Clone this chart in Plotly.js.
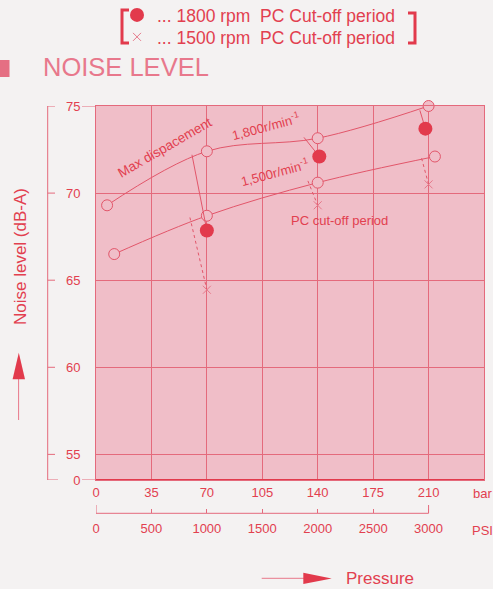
<!DOCTYPE html>
<html>
<head>
<meta charset="utf-8">
<script src="https://cdn.plot.ly/plotly-3.0.1.min.js"></script>
<style>html,body{margin:0;padding:0;background:#f4f2f2;}#chart{width:493px;height:589px;}</style>
</head>
<body>
<div id="chart"></div>
<script>
// ---- data ----
const barTicks = [0, 35, 70, 105, 140, 175, 210];
const barLabels = ['0', '35', '70', '105', '140', '175', '210'];
const psiTicks = [0, 500, 1000, 1500, 2000, 2500, 3000];
const psiLabels = ['0', '500', '1000', '1500', '2000', '2500', '3000'];
const yBreak = 53.53;               // where the broken axis shows "0"
const noiseTicks = [yBreak, 55, 60, 65, 70, 75];
const noiseLabels = ['0', '55', '60', '65', '70', '75'];

const maxX1800 = [7, 70, 140, 210];
const maxY1800 = [69.3, 72.4, 73.15, 75.0];
const maxX1500 = [11.5, 70, 140, 214];
const maxY1500 = [66.5, 68.7, 70.6, 72.1];
const cutX1800 = [70, 141, 208];
const cutY1800 = [67.85, 72.1, 73.7];
const cutX1500 = [70, 140, 210];
const cutY1500 = [64.45, 69.3, 70.5];
const dropFromX1800 = [60.6, 131.3, 204.5];
const dropFromY1800 = [72.2, 73.2, 74.75];
const dropFromX1500 = [59.3, 133.8, 205.6];
const dropFromY1500 = [68.6, 70.7, 72.0];

const legendNames = ['...\u00a01800 rpm\u00a0\u00a0PC Cut-off period', '...\u00a01500 rpm\u00a0\u00a0PC Cut-off period'];

// ---- styling / geometry ----
const W = 493, H = 589, ml = 96, mr = 9, mt = 106, mb = 49;
const plotW = W - ml - mr, plotH = H - mt - mb, paperBottom = H - mb;
const px = x => (x - ml) / plotW;
const py = y => (paperBottom - y) / plotH;
const red = '#e23a4c', lineRed = '#e2566a', grid = '#e46a7c', txt = '#e2404f';
const plotBg = '#f0bec8', paperBg = '#f4f2f2';
const font = 'Liberation Sans, Arial, sans-serif';

function segs(x0, y0, x1, y1) {
  const xs = [], ys = [];
  for (let i = 0; i < x0.length; i++) { xs.push(x0[i], x1[i], null); ys.push(y0[i], y1[i], null); }
  return {xs, ys};
}
const d18 = segs(dropFromX1800, dropFromY1800, cutX1800, cutY1800);
const d15 = segs(dropFromX1500, dropFromY1500, cutX1500, cutY1500);

const traces = [
  {x: maxX1800, y: maxY1800, mode: 'lines+markers', line: {color: lineRed, width: 1, shape: 'spline', smoothing: 1},
   marker: {symbol: 'circle', size: 11, color: plotBg, line: {color: lineRed, width: 1}}, showlegend: false, cliponaxis: false},
  {x: maxX1500, y: maxY1500, mode: 'lines+markers', line: {color: lineRed, width: 1, shape: 'spline', smoothing: 1},
   marker: {symbol: 'circle', size: 11, color: plotBg, line: {color: lineRed, width: 1}}, showlegend: false, cliponaxis: false},
  {x: d18.xs, y: d18.ys, mode: 'lines', line: {color: lineRed, width: 1}, showlegend: false, hoverinfo: 'skip'},
  {x: d15.xs, y: d15.ys, mode: 'lines', line: {color: lineRed, width: 1, dash: 'dot'}, showlegend: false, hoverinfo: 'skip'},
  {x: cutX1800, y: cutY1800, mode: 'markers', name: legendNames[0], legend: 'legend',
   marker: {symbol: 'circle', size: 14, color: red}, cliponaxis: false},
  {x: cutX1500, y: cutY1500, mode: 'markers', name: legendNames[1], legend: 'legend2',
   marker: {symbol: 'x-thin-open', size: 8, color: '#e6798a', line: {color: '#e6798a', width: 1}}, cliponaxis: false},
  {x: psiTicks, y: psiTicks.map(() => null), xaxis: 'x2', yaxis: 'y', mode: 'markers', showlegend: false, hoverinfo: 'skip'}
];

const shapes = [];
const L = (o) => shapes.push(Object.assign({type: 'line', line: {color: grid, width: 1}}, o));
// left bracket of the y axis
L({xref: 'paper', yref: 'y', x0: px(47.7), x1: px(47.7), y0: yBreak, y1: 75});
noiseTicks.forEach((v, i) => L({xref: 'paper', yref: 'y', x0: px(47.7), x1: px(i === 0 ? 58 : 55), y0: v, y1: v}));
L({xref: 'paper', yref: 'y', x0: px(82), x1: 0, y0: 75, y1: 75});
L({xref: 'paper', yref: 'y', x0: px(82), x1: 0, y0: yBreak, y1: yBreak});
// strong bottom border
shapes.push({type: 'line', xref: 'paper', yref: 'y', x0: 0, x1: 1, y0: yBreak, y1: yBreak, line: {color: red, width: 2}});
// PSI bracket
const bY = py(513.3);
L({xref: 'x2', yref: 'paper', x0: psiTicks[0], x1: psiTicks[psiTicks.length - 1], y0: bY, y1: bY});
L({xref: 'x2', yref: 'paper', x0: psiTicks[0], x1: psiTicks[0], y0: bY, y1: py(505)});
L({xref: 'x2', yref: 'paper', x0: psiTicks[psiTicks.length - 1], x1: psiTicks[psiTicks.length - 1], y0: bY, y1: py(505)});
// legend brackets
const B = {color: red, width: 3};
shapes.push({type: 'path', xref: 'paper', yref: 'paper', line: B,
  path: `M ${px(129)} ${py(10)} L ${px(122)} ${py(10)} L ${px(122)} ${py(43)} L ${px(129)} ${py(43)}`});
shapes.push({type: 'path', xref: 'paper', yref: 'paper', line: B,
  path: `M ${px(408)} ${py(13)} L ${px(415)} ${py(13)} L ${px(415)} ${py(43)} L ${px(408)} ${py(43)}`});
// title square
shapes.push({type: 'rect', xref: 'paper', yref: 'paper', x0: px(0), x1: px(9.5), y0: py(60), y1: py(77), fillcolor: '#e56f83', line: {width: 0}});
// y arrow
shapes.push({type: 'line', xref: 'paper', yref: 'paper', x0: px(18.6), x1: px(18.6), y0: py(420), y1: py(379), line: {color: '#e8798a', width: 1}});
shapes.push({type: 'path', xref: 'paper', yref: 'paper', fillcolor: red, line: {width: 0},
  path: `M ${px(18.8)} ${py(352.7)} L ${px(25)} ${py(379.3)} L ${px(12.6)} ${py(379.3)} Z`});
// pressure arrow
shapes.push({type: 'line', xref: 'paper', yref: 'paper', x0: px(261.7), x1: px(304), y0: py(578.3), y1: py(578.3), line: {color: '#e8798a', width: 1}});
shapes.push({type: 'path', xref: 'paper', yref: 'paper', fillcolor: red, line: {width: 0},
  path: `M ${px(331.7)} ${py(578.5)} L ${px(303.3)} ${py(572.8)} L ${px(303.3)} ${py(584)} Z`});

const ann = (o) => Object.assign({showarrow: false, xanchor: 'center', yanchor: 'middle', font: {family: font, size: 13, color: txt}}, o);
const annotations = [
  ann({xref: 'x', yref: 'y', x: 43.6, y: 72.6, text: 'Max dispacement', textangle: -30, font: {family: font, size: 13.5, color: txt}}),
  ann({xref: 'x', yref: 'y', x: 107.3, y: 73.84, text: '1,800r/min<sup>-1</sup>', textangle: -15}),
  ann({xref: 'x', yref: 'y', x: 113, y: 71.2, text: '1,500r/min<sup>-1</sup>', textangle: -15}),
  ann({xref: 'x', yref: 'y', x: 154, y: 68.4, text: 'PC cut-off period'}),
  ann({xref: 'paper', yref: 'paper', x: px(471), y: py(493), xanchor: 'left', text: 'bar'}),
  ann({xref: 'paper', yref: 'paper', x: px(470), y: py(530), xanchor: 'left', text: 'PSI'}),
  ann({xref: 'paper', yref: 'paper', x: px(344), y: py(578), xanchor: 'left', text: 'Pressure', font: {family: font, size: 17, color: txt}}),
  ann({xref: 'paper', yref: 'paper', x: px(20), y: py(257), text: 'Noise level (dB-A)', textangle: -90, font: {family: font, size: 17, color: txt}})
];

const legendBase = {xanchor: 'left', yanchor: 'top', bgcolor: 'rgba(0,0,0,0)', font: {family: font, size: 17.5, color: txt},
                    tracegroupgap: 0, itemwidth: 30};
const layout = {
  width: W, height: H,
  margin: {l: ml, r: mr, t: mt, b: mb, pad: 0, autoexpand: false},
  paper_bgcolor: paperBg, plot_bgcolor: plotBg,
  font: {family: font, color: txt, size: 13},
  title: {text: 'NOISE LEVEL', xref: 'container', yref: 'container', x: 43 / W, xanchor: 'left', y: 1 - 67 / H, yanchor: 'middle',
          font: {family: font, size: 25.5, color: '#e8788c'}},
  showlegend: true,
  legend: Object.assign({x: px(117), y: py(-3)}, legendBase),
  legend2: Object.assign({x: px(117), y: py(19)}, legendBase),
  xaxis: {range: [0, 245], tickvals: barTicks, ticktext: barLabels, ticks: '', showgrid: true, gridcolor: grid, gridwidth: 1,
          zeroline: false, showline: true, mirror: true, linecolor: grid, linewidth: 1, anchor: 'y',
          tickfont: {family: font, size: 13, color: txt}, fixedrange: true},
  xaxis2: {range: [0, 3500], overlaying: 'x', anchor: 'free', position: py(513.3), side: 'bottom', tickvals: psiTicks, ticktext: psiLabels,
           ticks: 'inside', ticklen: 4, tickcolor: grid, showgrid: false, zeroline: false, showline: false,
           tickfont: {family: font, size: 13, color: txt}, ticklabelstandoff: 6},
  yaxis: {domain: [py(480), 1], range: [yBreak, 75], tickvals: noiseTicks, ticktext: noiseLabels, ticks: '', showgrid: true,
          gridcolor: grid, gridwidth: 1, zeroline: false, showline: true, mirror: true, linecolor: grid, linewidth: 1,
          tickfont: {family: font, size: 13, color: txt}, ticklabelstandoff: 12},
  shapes: shapes,
  annotations: annotations
};
Plotly.newPlot('chart', traces, layout, {displayModeBar: false, staticPlot: true});
</script>
</body>
</html>
